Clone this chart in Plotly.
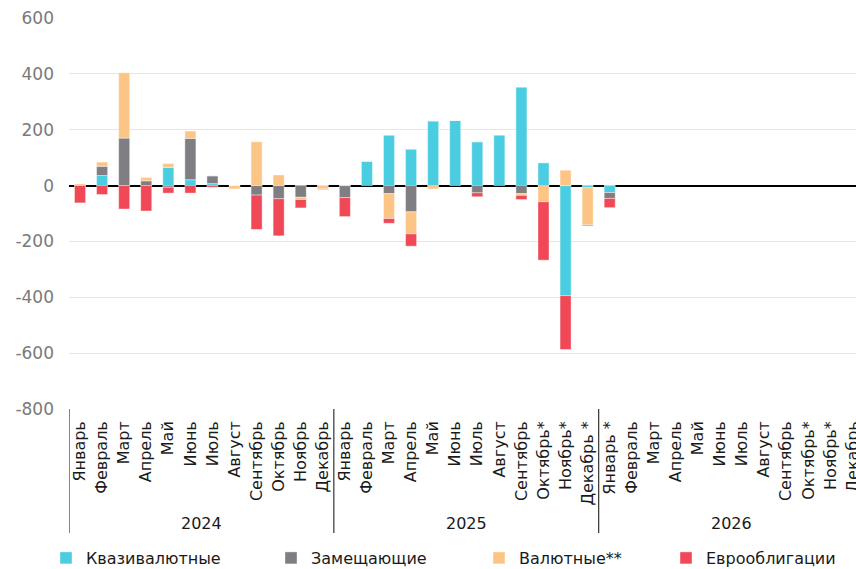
import plotly.graph_objects as go

years = ["2024"] * 12 + ["2025"] * 12 + ["2026"] * 12
months = [
    "Январь", "Февраль", "Март", "Апрель", "Май", "Июнь", "Июль", "Август",
    "Сентябрь", "Октябрь", "Ноябрь", "Декабрь",
    "Январь", "Февраль", "Март", "Апрель", "Май", "Июнь", "Июль", "Август",
    "Сентябрь", "Октябрь*", "Ноябрь*", "Декабрь *",
    "Январь *", "Февраль", "Март", "Апрель", "Май", "Июнь", "Июль", "Август",
    "Сентябрь", "Октябрь*", "Ноябрь*", "Декабрь",
]

N = None
kvazi = [0, 36, 0, 0, 65, 21, 7, 0, 0, 0, 0, 0,
         0, 88, 180, 130, 232, 234, 157, 182, 352, 82, -394, -8,
         -25, N, N, N, N, N, N, N, N, N, N, N]
zamesh = [0, 33, 170, 17, -6, 148, 28, 0, -34, -47, -42, 0,
          -43, 0, -29, -94, 0, 0, -26, 0, -29, 0, 0, 0,
          -21, N, N, N, N, N, N, N, N, N, N, N]
valut = [6, 15, 234, 12, 14, 26, 0, -12, 157, 38, -8, -12,
         0, 0, -89, -79, -12, 0, 0, 0, -6, -58, 55, -133,
         0, N, N, N, N, N, N, N, N, N, N, N]
euro = [-62, -32, -84, -91, -21, -27, -6, 0, -123, -133, -30, -2,
        -68, 0, -17, -44, 0, 0, -14, 0, -15, -209, -193, -3,
        -33, N, N, N, N, N, N, N, N, N, N, N]

series_names = ["Квазивалютные", "Замещающие", "Валютные**", "Еврооблигации"]
series_values = [kvazi, zamesh, valut, euro]
colors = ["#4ACDE0", "#7E7E83", "#FDC585", "#F04857"]

ytick_vals = [600, 400, 200, 0, -200, -400, -600, -800]
ytick_text = ["600", "400", "200", "0", "-200", "-400", "-600", "-800"]

FONT = "DejaVu Sans"

# unique category keys (year + month), month shown as tick text
cats = [f"{y} {m}" for y, m in zip(years, months)]

fig = go.Figure()
legend_ids = ["legend", "legend2", "legend3", "legend4"]
for name, vals, col, lg in zip(series_names, series_values, colors, legend_ids):
    fig.add_trace(go.Bar(
        x=cats, y=vals, name=name,
        marker=dict(color=col, line=dict(color="rgba(255,255,255,0.5)", width=0.8)),
        width=0.5, legend=lg,
    ))

W, H = 856, 569
ml, mr, mt, mb = 69, 0, 18, 160
pw = W - ml - mr
ph = H - mt - mb
legend_px = [46, 271, 479, 666]
legend_py = 558

layout_legends = {}
for lg, px in zip(legend_ids, legend_px):
    layout_legends[lg] = dict(
        x=(px - ml) / pw, xanchor="left",
        y=(H - mb - legend_py) / ph, yanchor="middle",
        orientation="h", bgcolor="rgba(0,0,0,0)",
        font=dict(family=FONT, size=16, color="#1a1a1a"),
    )

# year group labels and dividers
unique_years = []
for y in years:
    if y not in unique_years:
        unique_years.append(y)
annotations = []
shapes = []
for yr in unique_years:
    idx = [i for i, y in enumerate(years) if y == yr]
    center = (idx[0] + idx[-1]) / 2
    annotations.append(dict(
        x=center, xref="x", y=(H - mb - 523) / ph, yref="paper",
        text=yr, showarrow=False, yanchor="middle",
        font=dict(family=FONT, size=16, color="#1a1a1a"),
    ))
    shapes.append(dict(
        type="line", xref="x", yref="paper",
        x0=idx[0] - 0.5, x1=idx[0] - 0.5,
        y0=0, y1=(H - mb - 533) / ph,
        line=dict(color="#333333", width=1.2),
    ))

fig.update_layout(
    width=W, height=H,
    margin=dict(l=ml, r=mr, t=mt, b=mb, autoexpand=False),
    paper_bgcolor="white", plot_bgcolor="white",
    barmode="relative", bargap=0.5,
    showlegend=True,
    font=dict(family=FONT, color="#1a1a1a"),
    annotations=annotations, shapes=shapes,
    **layout_legends,
)
fig.update_xaxes(
    type="category", range=[-0.5, 35.16],
    tickvals=cats, ticktext=months,
    tickangle=-90, tickfont=dict(family=FONT, size=16, color="#1a1a1a"),
    showgrid=False, showline=False, ticks="", ticklabelstandoff=8,
)
fig.update_yaxes(
    range=[-800, 600], tickvals=ytick_vals, ticktext=ytick_text,
    tickfont=dict(family=FONT, size=17, color="#7a7a7a"),
    showgrid=True, gridcolor="#e6e6e6", gridwidth=1,
    zeroline=True, zerolinecolor="#000000", zerolinewidth=1.5,
    ticks="", ticklabelstandoff=14, showline=False,
)

fig.write_html(
    "out.html",
    config={"displayModeBar": False},
    post_script="document.body.style.margin='0';document.body.style.overflow='hidden';",
)
